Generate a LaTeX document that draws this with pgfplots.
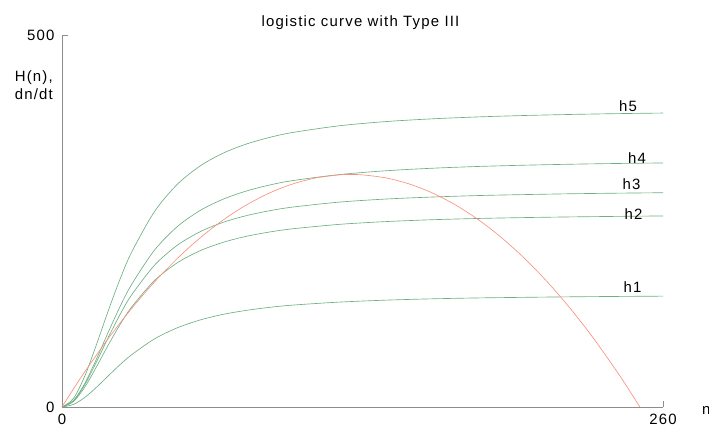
\documentclass[border=0pt]{standalone}
\usepackage{fontspec}
\setmainfont{Liberation Sans}[LetterSpace=8]
\usepackage{pgfplots}
\pgfplotsset{compat=1.18}
\definecolor{grn}{RGB}{110,175,130}
\definecolor{org}{RGB}{250,145,125}
\definecolor{axgray}{RGB}{140,140,140}
\newcommand\lf{\fontsize{15}{18}\selectfont}
\begin{document}
\begin{tikzpicture}
\useasboundingbox (-62bp,-21bp) rectangle (647bp,407bp);
\begin{axis}[at={(0,0)}, anchor=south west, scale only axis,
  width=601bp, height=372bp,
  xmin=0, xmax=260, ymin=0, ymax=500,
  axis x line=bottom, axis y line=left,
  axis line style={-, axgray},
  xtick={0,260}, ytick={0,500},
  tick align=inside, major tick length=6bp, tick style={axgray},
  ticklabel style={font=\lf},
  /pgf/number format/assume math mode=true,
  xticklabel style={yshift=-4bp}, yticklabel style={xshift=-4bp},
  clip=false]
\addplot[grn, line width=0.65pt, smooth, tension=0.5] coordinates {(0,0)(5,11.6)(10,42.7)(15,84.7)(20,129.3)(25,171.0)(30,207.3)(40,262.6)(50,299.7)(60,324.5)(70,341.6)(80,353.7)(90,362.5)(100,369.1)(120,378.0)(140,383.6)(160,387.3)(180,389.9)(200,391.8)(220,393.2)(240,394.3)(260,395.1)};
\addplot[grn, line width=0.65pt, smooth, tension=0.5] coordinates {(0,0)(5,8.8)(10,32.5)(15,65.1)(20,100.5)(25,134.2)(30,164.1)(40,210.8)(50,242.8)(60,264.6)(70,279.7)(80,290.5)(90,298.5)(100,304.4)(120,312.4)(140,317.5)(160,320.9)(180,323.3)(200,325.0)(220,326.3)(240,327.3)(260,328.0)};
\addplot[grn, line width=0.65pt, smooth, tension=0.5] coordinates {(0,0)(5,8.3)(10,30.7)(15,61.1)(20,93.4)(25,123.6)(30,150.1)(40,190.5)(50,217.7)(60,236.0)(70,248.5)(80,257.4)(90,263.9)(100,268.8)(120,275.4)(140,279.5)(160,282.2)(180,284.2)(200,285.5)(220,286.6)(240,287.4)(260,288.0)};
\addplot[grn, line width=0.65pt, smooth, tension=0.5] coordinates {(0,0)(5,7.4)(10,27.4)(15,54.5)(20,83.3)(25,110.2)(30,133.8)(40,169.9)(50,194.1)(60,210.4)(70,221.6)(80,229.6)(90,235.3)(100,239.6)(120,245.5)(140,249.2)(160,251.7)(180,253.4)(200,254.6)(220,255.5)(240,256.2)(260,256.8)};
\addplot[grn, line width=0.65pt, smooth, tension=0.5] coordinates {(0,0)(5,3.5)(10,13.2)(15,26.8)(20,41.8)(25,56.6)(30,69.9)(40,91.5)(50,106.6)(60,117.2)(70,124.7)(80,130.0)(90,134.0)(100,137.0)(120,141.0)(140,143.6)(160,145.4)(180,146.6)(200,147.4)(220,148.1)(240,148.6)(260,149.0)};
\addplot[org, line width=0.65pt, smooth, tension=0.5] coordinates {(0,0)(5,24.5)(10,48)(20,92)(30,132)(40,168)(50,200)(60,228)(70,252)(80,272)(90,288)(100,300)(110,308)(120,312)(125,312.5)(130,312)(140,308)(150,300)(160,288)(170,272)(180,252)(190,228)(200,200)(210,168)(220,132)(230,92)(240,48)(245,24.5)(250,0)};
\end{axis}
\node[anchor=base, font=\lf] at (298.5bp,380bp) {logistic curve with Type III};
\node[anchor=base east, font=\lf, inner sep=0pt] at (-9bp,325bp) {H(n),};
\node[anchor=base east, font=\lf, inner sep=0pt] at (-9bp,307bp) {dn/dt};
\node[anchor=base west, font=\lf, inner sep=0pt] at (640bp,-7bp) {n};
\node[anchor=base, font=\lf, inner sep=0pt] at (566bp,295bp) {h5};
\node[anchor=base, font=\lf, inner sep=0pt] at (575bp,243bp) {h4};
\node[anchor=base, font=\lf, inner sep=0pt] at (569.5bp,217bp) {h3};
\node[anchor=base, font=\lf, inner sep=0pt] at (571.5bp,187bp) {h2};
\node[anchor=base, font=\lf, inner sep=0pt] at (570.5bp,114bp) {h1};
\end{tikzpicture}
\end{document}
